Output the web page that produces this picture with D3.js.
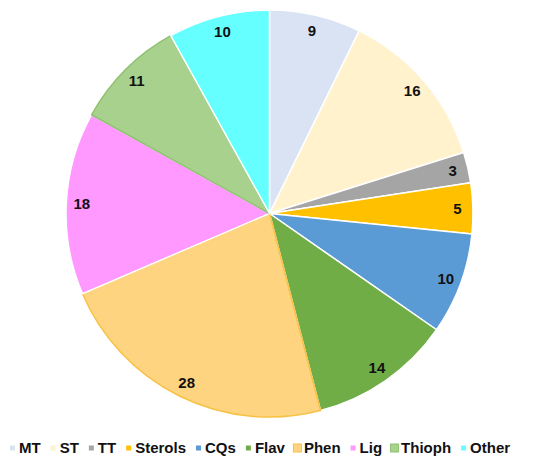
<!DOCTYPE html>
<html lang="en">
<head>
    <meta charset="UTF-8">
    <title>Pie chart of compound classes</title>
    <script src="https://d3js.org/d3.v7.min.js"></script>
    <style>
        body { margin: 0; background: #fff; }
        text { font-family: "Liberation Sans", Arial, sans-serif; font-weight: bold; }
    </style>
</head>
<body>
<div id="chart"></div>
<script>
  // Categories and values
  const categories = ["MT", "ST", "TT", "Sterols", "CQs", "Flav", "Phen", "Lig", "Thioph", "Other"];
  const values = [9, 16, 3, 5, 10, 14, 28, 18, 11, 10];
  const colors = ["#dae3f3", "#fff2cc", "#a5a5a5", "#ffc000", "#5b9bd5", "#70ad47", "#ffd480", "#ff99ff", "#a9d18e", "#66ffff"];
  const borders = ["#fff", "#fff", "#fff", "#fff", "#fff", "#fff", "#f7c244", "#fff", "#8fc170", "#fff"];

  const width = 550, height = 467;
  const cx = 269.5, cy = 213.5, radius = 203.5;

  const svg = d3.select("#chart")
    .append("svg")
      .attr("width", width)
      .attr("height", height);

  const data = categories.map((c, i) => ({ name: c, value: values[i], color: colors[i], border: borders[i] }));

  const pie = d3.pie().sort(null).value(d => d.value);
  const arcs = pie(data);

  const arc = d3.arc().innerRadius(0).outerRadius(radius);
  const labelArc = d3.arc().innerRadius(188).outerRadius(188);

  const g = svg.append("g")
    .attr("transform", `translate(${cx},${cy})`);

  // Slices
  g.selectAll("path")
    .data(arcs)
    .join("path")
      .attr("d", arc)
      .attr("fill", d => d.data.color)
      .attr("stroke", d => d.data.border)
      .attr("stroke-width", 1.5)
      .attr("stroke-linejoin", "round");

  // Value labels
  g.selectAll("text.value")
    .data(arcs)
    .join("text")
      .attr("class", "value")
      .attr("transform", d => `translate(${labelArc.centroid(d)})`)
      .attr("text-anchor", "middle")
      .attr("dy", "0.35em")
      .style("font-size", "15px")
      .attr("fill", "#111")
      .text(d => d.data.value);

  // Legend
  const legend = svg.append("g")
    .attr("transform", `translate(10,${448})`);

  let xPos = 0;
  data.forEach(d => {
    const item = legend.append("g").attr("transform", `translate(${xPos},0)`);
    const boxed = d.border !== "#fff";
    const s = boxed ? 8 : 5;
    item.append("rect")
      .attr("x", boxed ? -1.5 : 0)
      .attr("y", -s / 2)
      .attr("width", s)
      .attr("height", s)
      .attr("fill", d.color)
      .attr("stroke", boxed ? d.border : "none")
      .attr("stroke-width", 1);
    const t = item.append("text")
      .attr("x", 9)
      .attr("dy", "0.35em")
      .style("font-size", "15px")
      .attr("fill", "#111")
      .text(d.name);
    xPos += 9 + t.node().getComputedTextLength() + 10;
  });
</script>
</body>
</html>
